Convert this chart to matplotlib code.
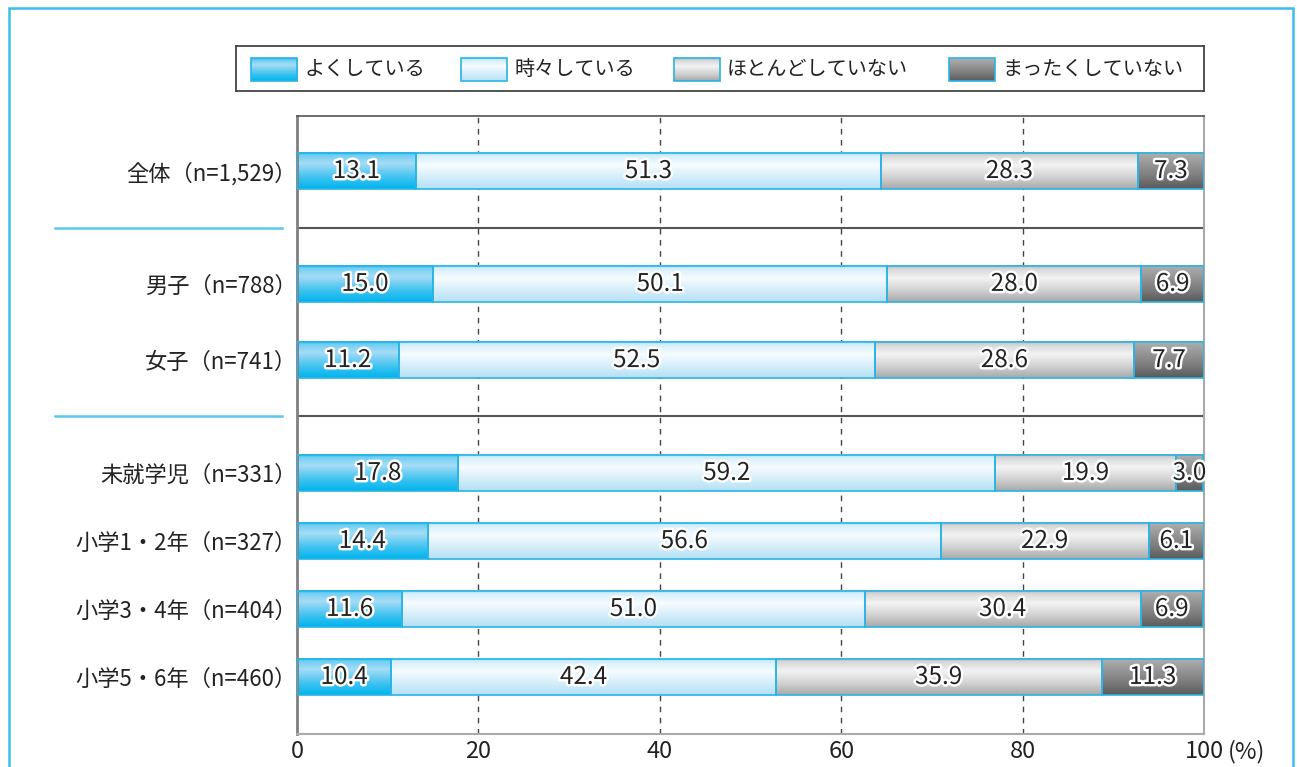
import matplotlib
matplotlib.use('Agg')
import matplotlib.pyplot as plt
import matplotlib.patheffects as pe
from matplotlib.colors import LinearSegmentedColormap
from matplotlib.patches import Rectangle
import numpy as np

plt.rcParams['font.family'] = ['Noto Sans CJK JP', 'DejaVu Sans']

# data
categories = ['全体（n=1,529）', '男子（n=788）', '女子（n=741）', '未就学児（n=331）',
              '小学1・2年（n=327）', '小学3・4年（n=404）', '小学5・6年（n=460）']
often = [13.1, 15.0, 11.2, 17.8, 14.4, 11.6, 10.4]
sometimes = [51.3, 50.1, 52.5, 59.2, 56.6, 51.0, 42.4]
rarely = [28.3, 28.0, 28.6, 19.9, 22.9, 30.4, 35.9]
never = [7.3, 6.9, 7.7, 3.0, 6.1, 6.9, 11.3]
series_names = ['よくしている', '時々している', 'ほとんどしていない', 'まったくしていない']
xticks = [0, 20, 40, 60, 80, 100]

# layout (row centres, separators)
rows = [0, 1.66, 2.78, 4.44, 5.44, 6.44, 7.44]
seps = [0.838, 3.603]
bar_h = 0.53

# gradients (top -> bottom)
grads = [
    [(0, '#1fb8ee'), (0.08, '#70cff3'), (0.3, '#a6dcf5'), (0.7, '#3cc2f0'), (1, '#00b4ee')],
    [(0, '#a4dbf5'), (0.1, '#d6f0fb'), (0.35, '#f6fcff'), (1, '#b4e0f5')],
    [(0, '#b8b8b8'), (0.1, '#d8d8d8'), (0.35, '#f3f3f3'), (0.7, '#d0d0d0'), (1, '#a8a8a8')],
    [(0, '#b0b0b0'), (0.25, '#9c9c9c'), (0.7, '#787878'), (1, '#5a5a5a')],
]
edge = '#2ab4e6'


def grad_img(stops):
    cmap = LinearSegmentedColormap.from_list('g', stops)
    return cmap(np.linspace(0, 1, 64))[:, None, :3]


fig = plt.figure(figsize=(12.97, 7.67), dpi=100)
ax = fig.add_axes([297 / 1297, 33 / 767, 907 / 1297, 618 / 767])

values = [often, sometimes, rarely, never]
imgs = [grad_img(g) for g in grads]
for i, y in enumerate(rows):
    left = 0
    for k in range(4):
        w = values[k][i]
        ax.imshow(imgs[k], extent=(left, left + w, y + bar_h / 2, y - bar_h / 2),
                  aspect='auto', origin='upper', zorder=2, interpolation='bilinear')
        ax.add_patch(Rectangle((left, y - bar_h / 2), w, bar_h, fill=False,
                               edgecolor=edge, lw=1.2, zorder=3))
        ax.text(left + w / 2, y, f'{w:.1f}', ha='center', va='center', fontsize=17.5,
                color='#222222', zorder=4,
                path_effects=[pe.withStroke(linewidth=3.5, foreground='white')])
        left += w

ax.set_xlim(0, 100)
ax.set_ylim(8.279, -0.809)
ax.set_xticks(xticks)
ax.set_xticklabels([str(t) for t in xticks], fontsize=17, color='#222222')
ax.set_yticks(rows)
ax.set_yticklabels(categories, fontsize=16, color='#222222')
ax.tick_params(length=0, pad=4)
ax.tick_params(axis='y', pad=0)
for t in xticks[1:-1]:
    ax.axvline(t, color='#444444', lw=1, ls=(0, (4, 4)), zorder=1)
for s in seps:
    ax.axhline(s, color='#555555', lw=1.5, zorder=1)
    ax.plot([55 / 1297, 282 / 1297], [1 - (s + 0.809) / 9.088 * 618 / 767 - 116 / 767] * 2,
            transform=fig.transFigure, color='#5cc8f0', lw=1.8, clip_on=False)

ax.spines['left'].set_color('#808080')
ax.spines['left'].set_linewidth(2)
ax.spines['top'].set_color('#555555')
ax.spines['top'].set_linewidth(1.2)
ax.spines['right'].set_color('#aaaaaa')
ax.spines['right'].set_linewidth(1.5)
ax.spines['bottom'].set_color('#aaaaaa')
ax.spines['bottom'].set_linewidth(1.5)

fig.text(1228 / 1297, 1 - 752 / 767, '(%)', fontsize=17, color='#222222',
         ha='left', va='center')

# legend
lax = fig.add_axes([236 / 1297, 1 - 91 / 767, 968 / 1297, 45 / 767])
lax.set_xticks([])
lax.set_yticks([])
for sp in lax.spines.values():
    sp.set_color('#444444')
    sp.set_linewidth(1.3)
patch_x = [251, 461, 674, 949]
for k in range(4):
    x0 = patch_x[k]
    lax.imshow(imgs[k], extent=(x0, x0 + 46, 81, 58), aspect='auto', origin='upper',
               interpolation='bilinear')
    lax.add_patch(Rectangle((x0, 58), 46, 23, fill=False, edgecolor=edge, lw=1.2))
    lax.text(x0 + 53, 69.5, series_names[k], fontsize=14.5, color='#222222',
             ha='left', va='center')
lax.set_xlim(236, 1204)
lax.set_ylim(91, 46)

# outer frame
fig.add_artist(Rectangle((9 / 1297, -0.1), 1284 / 1297, 1.1 - 8 / 767,
                         transform=fig.transFigure, fill=False,
                         edgecolor='#3cbdec', lw=1.8, clip_on=False))

fig.savefig('out.png', dpi=100)
